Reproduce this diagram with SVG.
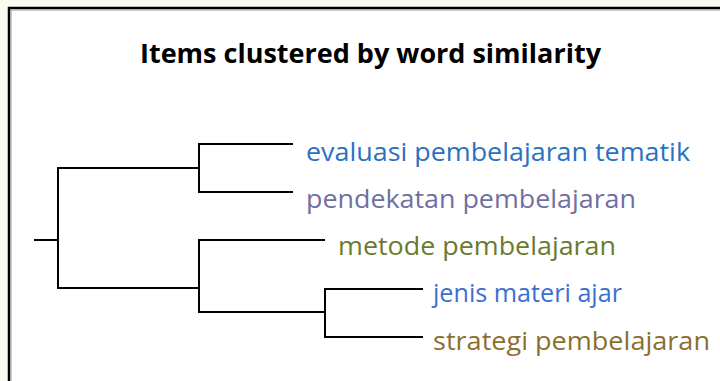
<svg xmlns="http://www.w3.org/2000/svg" width="720" height="381" viewBox="0 0 720 381">
<style>
.lbl{font-family:"Open Sans","Noto Sans","DejaVu Sans",sans-serif;font-size:26px}
.ttl{font-family:"Open Sans","Noto Sans","DejaVu Sans",sans-serif;font-size:27px;font-weight:bold;fill:#000}
.edge{fill:none;stroke:#000;stroke-width:2;stroke-linecap:square}
</style>
<rect x="0" y="0" width="720" height="381" fill="#fafaf0"/>
<rect x="9" y="8" width="720" height="380" fill="#ffffff"/>
<path d="M9,381 V8 H720" fill="none" stroke="#000" stroke-width="2.5"/>
<path d="M11,381 V10 H720" fill="none" stroke="#999" stroke-width="1"/>
<text class="ttl" x="140" y="63" textLength="461" lengthAdjust="spacingAndGlyphs">Items clustered by word similarity</text>
<g id="connectors">
<path class="edge" d="M35,240 H58 M58,168 V288 M58,168 H199 M58,288 H199 M199,144 V192 M199,144 H292 M199,192 H292 M199,240 V312 M199,240 H324 M199,312 H325 M325,289 V337 M325,289 H422 M325,337 H422"/>
</g>
<g id="n1"><text class="lbl" x="306" y="161" fill="#2b71c0" textLength="384" lengthAdjust="spacingAndGlyphs">evaluasi pembelajaran tematik</text></g>
<g id="n2"><text class="lbl" x="306" y="208" fill="#6f6fa3" textLength="330" lengthAdjust="spacingAndGlyphs">pendekatan pembelajaran</text></g>
<g id="n3"><text class="lbl" x="338" y="255" fill="#6b7a2e" textLength="278" lengthAdjust="spacingAndGlyphs">metode pembelajaran</text></g>
<g id="n4"><text class="lbl" x="433" y="302" fill="#3b6fd2" textLength="189" lengthAdjust="spacingAndGlyphs">jenis materi ajar</text></g>
<g id="n5"><text class="lbl" x="433" y="350" fill="#8c6e30" textLength="277" lengthAdjust="spacingAndGlyphs">strategi pembelajaran</text></g>
</svg>
